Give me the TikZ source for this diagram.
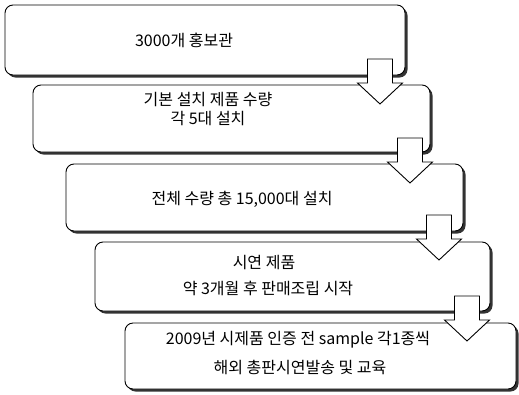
\documentclass[tikz,border=0pt]{standalone}
\usepackage{fontspec}
\usetikzlibrary{calc}
\setmainfont{Noto Sans CJK KR}
\begin{document}
\begin{tikzpicture}[x=1pt,y=-1pt,
  box/.style={draw=black,line width=0.9pt,fill=white,rounded corners=8pt,inner sep=0pt,outer sep=0pt},
  shadow/.style={fill=black!80,rounded corners=8pt},
  txt/.style={font=\fontsize{16}{18}\selectfont,inner sep=0pt},
  blk/.style={draw=black,line width=0.9pt,fill=white,line join=miter}]
\useasboundingbox (0,0) rectangle (519,394);
\newcommand{\boxat}[5]{%
  \fill[shadow] (#2+2.5,#3+2.5) rectangle (#4+2.5,#5+2.5);
  \node[box,minimum width=#4-#2,minimum height=#5-#3] (#1) at ({(#2+#4)/2},{(#3+#5)/2}) {};}
\newcommand{\arrowat}[3]{%
  \coordinate (#1) at (#2,#3);
  \draw[blk] ($(#1)+(-12.5,0)$) -- ++(25,0) -- ++(0,24) -- ++(10,0) -- ($(#1)+(0,45)$)
    -- ($(#1)+(-22.5,24)$) -- ++(10,0) -- cycle;}
\boxat{b1}{5}{5}{405}{75}
\boxat{b2}{33}{85}{430}{152}
\arrowat{a1}{380}{59}
\boxat{b3}{66}{164}{463}{231}
\arrowat{a2}{410}{138}
\boxat{b4}{95}{242}{490}{311}
\arrowat{a3}{439}{215}
\boxat{b5}{125}{323}{516}{389}
\arrowat{a4}{467}{296}
\node[txt] (t1) at (184,40) {3000개 홍보관};
\node[txt] (t2a) at (208,100) {기본 설치 제품 수량};
\node[txt] (t2b) at (208,119) {각 5대 설치};
\node[txt] (t3) at (242,199) {전체 수량 총 15,000대 설치};
\node[txt] (t4a) at (264,263) {시연 제품};
\node[txt] (t4b) at (268,288) {약 3개월 후 판매조립 시작};
\node[txt] (t5a) at (298,340) {2009년 시제품 인증 전 sample 각1종씩};
\node[txt] (t5b) at (300,367) {해외 총판시연발송 및 교육};
\end{tikzpicture}
\end{document}
